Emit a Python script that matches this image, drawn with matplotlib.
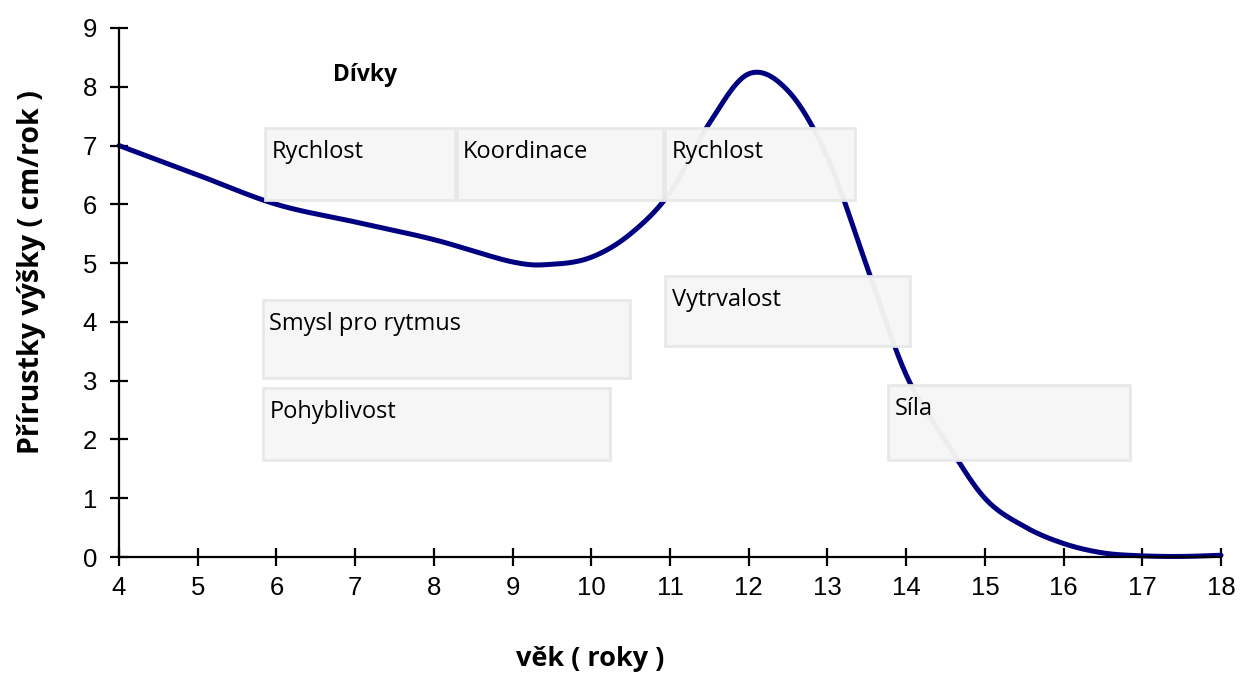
import numpy as np
import matplotlib.pyplot as plt
from matplotlib.patches import Rectangle

# growth increment curve (girls)
age = [4, 5, 6, 7, 8, 9, 9.5, 10, 10.5, 11, 11.5, 12, 12.5, 13, 13.5, 14, 14.5, 15, 15.5, 16, 16.5, 17, 17.5, 18]
growth = [7.0, 6.5, 6.0, 5.7, 5.4, 5.02, 4.98, 5.1, 5.5, 6.2, 7.38, 8.22, 7.93, 6.8, 4.95, 3.1, 1.98, 1.0, 0.52, 0.23, 0.07, 0.02, 0.01, 0.03]

# labelled boxes: (text, x0, x1, y_bottom, y_top)
box_labels = ['Rychlost', 'Koordinace', 'Rychlost', 'Vytrvalost', 'Smysl pro rytmus', 'Pohyblivost', 'Síla']
box_x0 = [5.86, 8.29, 10.94, 10.94, 5.83, 5.83, 13.77]
box_x1 = [8.27, 10.91, 13.35, 14.05, 10.49, 10.24, 16.85]
box_y0 = [6.07, 6.07, 6.07, 3.59, 3.04, 1.65, 1.65]
box_y1 = [7.30, 7.30, 7.30, 4.78, 4.37, 2.87, 2.93]


def catmull_rom(xs, ys, n=30):
    # smooth drawing of the line through the read points
    xs = np.asarray(xs, float)
    ys = np.asarray(ys, float)
    px = np.concatenate([[2 * xs[0] - xs[1]], xs, [2 * xs[-1] - xs[-2]]])
    py = np.concatenate([[2 * ys[0] - ys[1]], ys, [2 * ys[-1] - ys[-2]]])
    outx, outy = [], []
    t = np.linspace(0, 1, n, endpoint=False)
    for i in range(1, len(px) - 2):
        for p, out in ((px, outx), (py, outy)):
            p0, p1, p2, p3 = p[i - 1], p[i], p[i + 1], p[i + 2]
            out.extend(0.5 * ((2 * p1) + (-p0 + p2) * t + (2 * p0 - 5 * p1 + 4 * p2 - p3) * t ** 2
                              + (-p0 + 3 * p1 - 3 * p2 + p3) * t ** 3))
    outx.append(xs[-1])
    outy.append(ys[-1])
    return np.array(outx), np.array(outy)


fig = plt.figure(figsize=(12.41, 6.76), dpi=100)
ax = fig.add_axes([0.0959, 0.176, 0.888, 0.7826])

sx, sy = catmull_rom(age, growth)
ax.plot(sx, sy, color='#000080', lw=3.6, zorder=2, solid_capstyle='round', clip_on=False)

for lab, x0, x1, y0, y1 in zip(box_labels, box_x0, box_x1, box_y0, box_y1):
    ax.add_patch(Rectangle((x0, y0), x1 - x0, y1 - y0, facecolor='#f6f6f6', edgecolor='#e8e8e8',
                           lw=2, alpha=0.97, zorder=3))
    ax.text(x0 + 0.08, y1 - 0.2, lab, ha='left', va='top', fontsize=17, family='Open Sans', zorder=4)

ax.text(6.72, 8.2, 'Dívky', ha='left', va='center', fontsize=16.5, fontweight='bold', family='Open Sans')

ax.set_xlim(4, 18)
ax.set_ylim(0, 9)
ax.set_xticks(range(4, 19))
ax.set_yticks(range(0, 10))
ax.spines['top'].set_visible(False)
ax.spines['right'].set_visible(False)
ax.spines['left'].set_linewidth(1.6)
ax.spines['bottom'].set_linewidth(1.6)
ax.tick_params(direction='inout', length=13.5, width=1.6, labelsize=18.5)
ax.tick_params(axis='y', pad=9)
ax.tick_params(axis='x', pad=7)
for lbl in ax.get_xticklabels() + ax.get_yticklabels():
    lbl.set_family('Liberation Sans')

ax.set_xlabel('věk ( roky )', fontsize=19.5, fontweight='bold', family='Open Sans')
ax.xaxis.set_label_coords(0.428, -0.168)
ax.set_ylabel('Přírustky výšky ( cm/rok )', fontsize=20.5, fontweight='bold', family='Open Sans')
ax.yaxis.set_label_coords(-0.066, 0.539)

fig.savefig('out.png', dpi=100)
